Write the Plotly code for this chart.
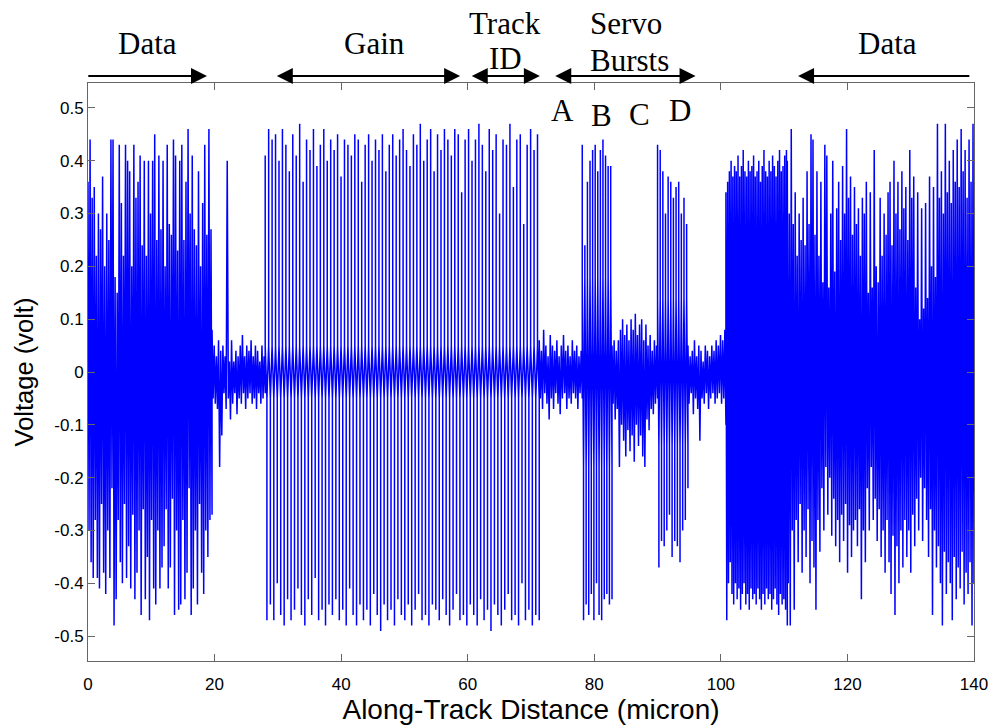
import numpy as np
import plotly.graph_objects as go

# ---------------- data ----------------
# segment boundaries along the track (micron)
seg_edges = [0.0, 19.6, 28.0, 71.3, 78.1, 82.8, 90.0, 94.8, 100.8, 110.5, 140.0]
# half-height (volt) of the dense centre band of each segment (None = plain oscillation)
seg_core = [None, None, 0.05, None, 0.18, None, 0.14, None, None, None]

# positive / negative peaks (volt) per segment
data1_tops = [0.36, 0.44, 0.33, 0.35, 0.22, 0.30, 0.27, 0.37, 0.20, 0.30,
              0.25, 0.44, 0.44, 0.18, 0.15, 0.43, 0.32, 0.22, 0.43, 0.40,
              0.38, 0.20, 0.43, 0.33, 0.36, 0.41, 0.24, 0.40, 0.22, 0.40,
              0.30, 0.40, 0.45, 0.25, 0.41, 0.27, 0.40, 0.20, 0.43, 0.28,
              0.26, 0.44, 0.41, 0.23, 0.40, 0.43, 0.25, 0.36, 0.46, 0.30,
              0.41, 0.27, 0.24, 0.38, 0.20, 0.32, 0.43, 0.26, 0.46, 0.27]
data1_bots = [-0.30, -0.36, -0.39, -0.28, -0.39, -0.41, -0.25, -0.38, -0.42, -0.30,
              -0.39, -0.22, -0.48, -0.43, -0.28, -0.36, -0.40, -0.25, -0.39, -0.33,
              -0.41, -0.27, -0.43, -0.38, -0.30, -0.46, -0.26, -0.43, -0.35, -0.47,
              -0.28, -0.41, -0.44, -0.30, -0.41, -0.37, -0.33, -0.26, -0.41, -0.37,
              -0.24, -0.46, -0.30, -0.45, -0.44, -0.28, -0.43, -0.38, -0.22, -0.46,
              -0.41, -0.30, -0.44, -0.25, -0.38, -0.42, -0.30, -0.35, -0.28, -0.27]

noise1_tops = [0.08, 0.05, 0.03, 0.06, 0.04, 0.05, 0.03, 0.40, 0.02, 0.06,
               0.02, 0.04, 0.03, 0.05, 0.07, 0.03, 0.05, 0.04, 0.06, 0.03,
               0.05, 0.04, 0.02, 0.05, 0.03]
noise1_bots = [-0.05, -0.06, -0.07, -0.18, -0.12, -0.04, -0.07, -0.05, -0.09, -0.06,
               -0.04, -0.08, -0.05, -0.06, -0.04, -0.07, -0.05, -0.04, -0.06, -0.05,
               -0.07, -0.04, -0.06, -0.05, -0.04]

gain_tops = [0.41, 0.46, 0.44, 0.45, 0.40, 0.46, 0.43, 0.38, 0.45, 0.41,
             0.47, 0.36, 0.44, 0.42, 0.46, 0.39, 0.43, 0.46, 0.40, 0.44,
             0.42, 0.45, 0.37, 0.44, 0.43, 0.41, 0.45, 0.44, 0.36, 0.43,
             0.45, 0.40, 0.44, 0.42, 0.45, 0.38, 0.43, 0.45, 0.41, 0.44,
             0.46, 0.42, 0.39, 0.45, 0.43, 0.47, 0.40, 0.44, 0.46, 0.38,
             0.45, 0.42, 0.46, 0.44, 0.41, 0.46, 0.45, 0.34, 0.44, 0.46,
             0.40, 0.44, 0.47, 0.43, 0.38, 0.46, 0.42, 0.45, 0.30, 0.44,
             0.43, 0.47, 0.35, 0.44, 0.45, 0.28, 0.43, 0.46, 0.42, 0.45]
gain_bots = [-0.47, -0.44, -0.47, -0.40, -0.46, -0.48, -0.43, -0.47, -0.45, -0.41,
             -0.46, -0.48, -0.43, -0.46, -0.39, -0.47, -0.45, -0.48, -0.44, -0.46,
             -0.43, -0.47, -0.45, -0.48, -0.41, -0.46, -0.48, -0.44, -0.47, -0.45,
             -0.48, -0.42, -0.46, -0.49, -0.44, -0.47, -0.45, -0.48, -0.43, -0.46,
             -0.47, -0.44, -0.48, -0.45, -0.42, -0.47, -0.46, -0.48, -0.44, -0.45,
             -0.47, -0.43, -0.46, -0.48, -0.45, -0.42, -0.47, -0.46, -0.48, -0.44,
             -0.46, -0.48, -0.43, -0.47, -0.45, -0.49, -0.44, -0.46, -0.48, -0.45,
             -0.42, -0.47, -0.46, -0.48, -0.40, -0.47, -0.45, -0.48, -0.46, -0.47]

burstA_tops = [0.06, 0.04, 0.08, 0.05, 0.03, 0.07, 0.05, 0.04, 0.06, 0.03,
               0.05, 0.07, 0.04, 0.05, 0.03, 0.06, 0.04, 0.05, 0.03, 0.04]
burstA_bots = [-0.05, -0.07, -0.04, -0.06, -0.09, -0.05, -0.07, -0.04, -0.06, -0.08,
               -0.05, -0.04, -0.07, -0.05, -0.06, -0.04, -0.05, -0.07, -0.04, -0.05]

burstB_tops = [0.43, 0.24, 0.36, 0.40, 0.42, 0.43, 0.38, 0.42, 0.44, 0.41, 0.39, 0.39]
burstB_bots = [-0.47, -0.44, -0.46, -0.42, -0.47, -0.40, -0.46, -0.47, -0.43, -0.42, -0.44, -0.43]

burstC_tops = [0.05, 0.06, 0.04, 0.06, 0.08, 0.10, 0.07, 0.09, 0.06, 0.10, 0.08,
               0.11, 0.07, 0.09, 0.10, 0.06, 0.09, 0.05, 0.07, 0.04, 0.06, 0.05]
burstC_bots = [-0.06, -0.09, -0.07, -0.18, -0.10, -0.13, -0.16, -0.11, -0.15, -0.12, -0.17,
               -0.10, -0.14, -0.12, -0.16, -0.18, -0.09, -0.11, -0.07, -0.08, -0.06, -0.05]

burstD_tops = [0.43, 0.42, 0.38, 0.30, 0.37, 0.36, 0.33, 0.35, 0.36, 0.30, 0.33, 0.28]
burstD_bots = [-0.37, -0.32, -0.33, -0.30, -0.27, -0.35, -0.32, -0.33, -0.36, -0.30, -0.28, -0.22]

noise2_tops = [0.05, 0.03, 0.04, 0.06, 0.03, 0.05, 0.04, 0.02, 0.05,
               0.04, 0.03, 0.05, 0.04, 0.06, 0.05, 0.07, 0.06, 0.08]
noise2_bots = [-0.06, -0.04, -0.08, -0.05, -0.07, -0.13, -0.05, -0.06, -0.04,
               -0.07, -0.05, -0.04, -0.06, -0.05, -0.04, -0.06, -0.05, -0.10]

dense_tops = [0.34, 0.36, 0.38, 0.40, 0.37, 0.39, 0.38, 0.41, 0.37, 0.39, 0.42, 0.38,
              0.37, 0.40, 0.38, 0.39, 0.41, 0.37, 0.38, 0.40, 0.36, 0.39, 0.42, 0.38,
              0.37, 0.40, 0.38, 0.41, 0.39, 0.37, 0.40, 0.42, 0.38, 0.39, 0.41, 0.42]
dense_bots = [-0.47, -0.40, -0.36, -0.42, -0.44, -0.40, -0.43, -0.41, -0.45, -0.42, -0.40, -0.44,
              -0.42, -0.45, -0.41, -0.43, -0.42, -0.44, -0.41, -0.43, -0.45, -0.42, -0.44, -0.41,
              -0.43, -0.42, -0.45, -0.43, -0.41, -0.44, -0.46, -0.42, -0.44, -0.43, -0.45, -0.48]

data2_tops = [0.40, 0.30, 0.46, 0.28, 0.34, 0.22, 0.30, 0.25, 0.33, 0.24,
              0.38, 0.28, 0.45, 0.44, 0.26, 0.38, 0.22, 0.36, 0.17, 0.43,
              0.41, 0.16, 0.30, 0.40, 0.19, 0.31, 0.36, 0.25, 0.39, 0.30,
              0.46, 0.33, 0.37, 0.26, 0.35, 0.28, 0.31, 0.22, 0.33, 0.30,
              0.36, 0.15, 0.34, 0.16, 0.42, 0.20, 0.17, 0.33, 0.22, 0.30,
              0.26, 0.34, 0.36, 0.24, 0.40, 0.30, 0.36, 0.27, 0.38, 0.31,
              0.35, 0.25, 0.42, 0.33, 0.37, 0.16, 0.34, 0.10, 0.31, 0.12,
              0.32, 0.14, 0.37, 0.20, 0.35, 0.18, 0.47, 0.33, 0.38, 0.30,
              0.47, 0.34, 0.40, 0.32, 0.42, 0.36, 0.44, 0.35, 0.46, 0.38,
              0.42, 0.33, 0.44, 0.36, 0.47]
data2_bots = [-0.40, -0.48, -0.30, -0.45, -0.28, -0.36, -0.25, -0.38, -0.30, -0.35,
              -0.26, -0.40, -0.32, -0.37, -0.45, -0.28, -0.34, -0.22, -0.30, -0.18,
              -0.27, -0.20, -0.31, -0.24, -0.33, -0.28, -0.36, -0.27, -0.32, -0.25,
              -0.38, -0.29, -0.35, -0.30, -0.28, -0.33, -0.26, -0.43, -0.30, -0.36,
              -0.22, -0.30, -0.18, -0.28, -0.24, -0.32, -0.26, -0.35, -0.30, -0.38,
              -0.28, -0.36, -0.42, -0.31, -0.46, -0.33, -0.40, -0.30, -0.37, -0.28,
              -0.35, -0.30, -0.38, -0.27, -0.33, -0.24, -0.30, -0.20, -0.32, -0.22,
              -0.28, -0.35, -0.26, -0.46, -0.30, -0.37, -0.33, -0.40, -0.48, -0.34,
              -0.42, -0.36, -0.40, -0.47, -0.35, -0.43, -0.37, -0.41, -0.34, -0.44,
              -0.38, -0.42, -0.36, -0.48, -0.40]

segments = [
    (data1_tops, data1_bots), (noise1_tops, noise1_bots), (gain_tops, gain_bots),
    (burstA_tops, burstA_bots), (burstB_tops, burstB_bots), (burstC_tops, burstC_bots),
    (burstD_tops, burstD_bots), (noise2_tops, noise2_bots), (dense_tops, dense_bots),
    (data2_tops, data2_bots),
]

x_ticks = [0, 20, 40, 60, 80, 100, 120, 140]
y_ticks = [-0.5, -0.4, -0.3, -0.2, -0.1, 0, 0.1, 0.2, 0.3, 0.4, 0.5]
y_ticktext = ["-0.5", "-0.4", "-0.3", "-0.2", "-0.1", "0", "0.1", "0.2", "0.3", "0.4", "0.5"]

# ---------------- build waveform path ----------------
xs, ys = [], []
for k, (tops, bots) in enumerate(segments):
    x0, x1 = seg_edges[k], seg_edges[k + 1]
    peaks = []
    for t, b in zip(tops, bots):
        peaks += [t, b]
    pos = np.linspace(x0, x1, len(peaks))
    core = seg_core[k]
    for px, pv in zip(pos, peaks):
        if core is None:
            xs.append(px)
            ys.append(pv)
        else:
            c = core if pv > 0 else -core
            xs += [px, px, px]
            ys += [c, pv, c]

BLUE = "#0000ff"
fig = go.Figure()
fig.add_trace(go.Scatter(x=xs, y=ys, mode="lines", line=dict(color=BLUE, width=1.5),
                         hoverinfo="skip"))

# ---------------- annotations ----------------
SERIF = "Liberation Serif, Times New Roman, serif"
labels = [
    ("Data", 9.4, 1.069), ("Gain", 45.3, 1.069), ("Track", 65.9, 1.103), ("ID", 65.9, 1.042),
    ("Servo", 85.0, 1.103), ("Bursts", 85.5, 1.039), ("Data", 126.3, 1.069),
    ("A", 75.0, 0.9525), ("B", 81.1, 0.944), ("C", 87.1, 0.946), ("D", 93.6, 0.9525),
]
for txt, lx, ly in labels:
    fig.add_annotation(x=lx, y=ly, xref="x", yref="paper", text=txt, showarrow=False,
                       font=dict(family=SERIF, size=31, color="black"),
                       xanchor="center", yanchor="middle")

arrow_y = 1.0119
arrows = [  # (head x, tail x, double?)
    (18.8, -0.19, False), (58.8, 29.6, True), (71.4, 60.4, True),
    (96.0, 73.6, True), (112.2, 139.5, False),
]
for hx, tx, dbl in arrows:
    fig.add_annotation(x=hx, y=arrow_y, xref="x", yref="paper", ax=tx, ay=0,
                       axref="x", ayref="pixel", text="", showarrow=True,
                       arrowhead=2, arrowside="end+start" if dbl else "end",
                       startarrowhead=2, arrowsize=1.6, startarrowsize=1.6,
                       arrowwidth=2, arrowcolor="black", standoff=0, startstandoff=0)

AX = "#666666"
fig.update_xaxes(range=[0, 140], tickvals=x_ticks, ticks="inside", ticklen=7, tickcolor=AX,
                 showline=True, linecolor=AX, linewidth=1, mirror="ticks", showgrid=False,
                 zeroline=False, tickfont=dict(size=17, color="black"), ticklabelstandoff=8,
                 title=dict(text="Along-Track Distance (micron)", font=dict(size=28, color="black"),
                            standoff=0))
fig.update_yaxes(range=[-0.547, 0.547], tickvals=y_ticks, ticktext=y_ticktext, ticks="inside",
                 ticklen=7, tickcolor=AX, showline=True, linecolor=AX, linewidth=1,
                 mirror="ticks", showgrid=False, zeroline=False,
                 tickfont=dict(size=17, color="black"),
                 title=dict(text="Voltage (volt)", font=dict(size=25.5, color="black"), standoff=13))
fig.update_layout(width=1000, height=726, margin=dict(l=88, r=20, t=83, b=53),
                  paper_bgcolor="white", plot_bgcolor="white", showlegend=False,
                  font=dict(family="Liberation Sans, Arial, sans-serif", color="black"))

fig.write_html("out.html")
